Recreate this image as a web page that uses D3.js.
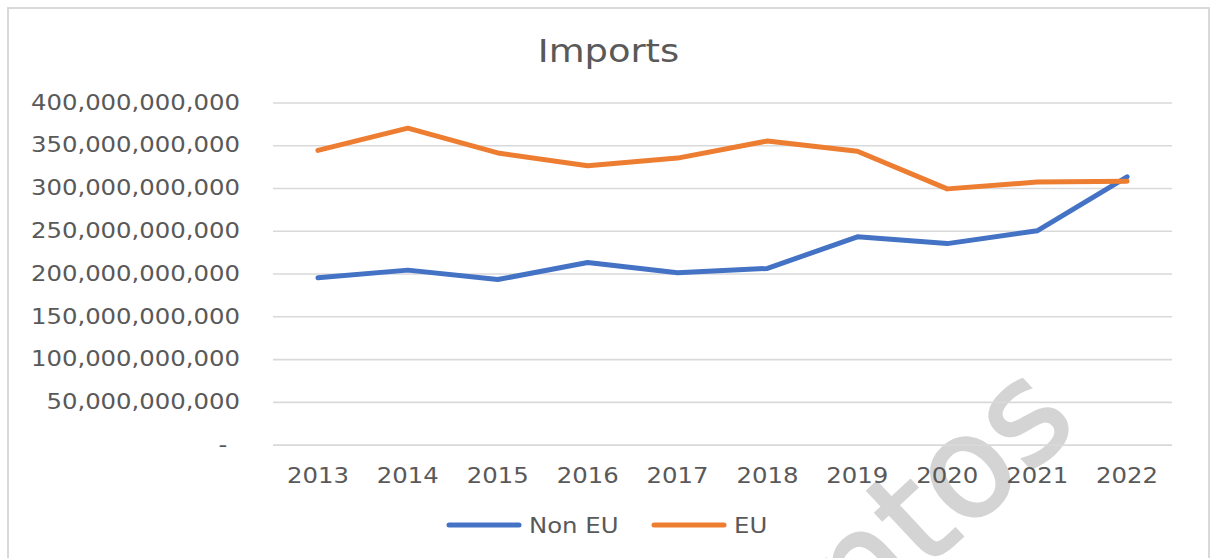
<!DOCTYPE html>
<html>
<head>
<meta charset="utf-8">
<script src="https://cdn.jsdelivr.net/npm/d3@7"></script>
<style>
  html, body { margin: 0; padding: 0; background: #fff; }
  svg { display: block; }
  text { font-family: "DejaVu Sans", "Open Sans", sans-serif; fill: #595959; }
</style>
</head>
<body>
<svg id="chart" width="1214" height="558"></svg>
<script>
// Yearly import values (EUR)
const years = ["2013","2014","2015","2016","2017","2018","2019","2020","2021","2022"];
const nonEU = [195e9, 204e9, 193e9, 213e9, 201e9, 206e9, 243e9, 235e9, 250e9, 313e9];
const eu    = [344e9, 370e9, 341e9, 326e9, 335e9, 355e9, 343e9, 299e9, 307e9, 308e9];
const yTicks = [0, 50e9, 100e9, 150e9, 200e9, 250e9, 300e9, 350e9, 400e9];
const seriesNames = ["Non EU", "EU"];
const seriesColors = ["#4472C4", "#ED7D31"];
const chartTitle = "Imports";

const svg = d3.select("#chart");
const stretch = "scale(1.16,1)";
const plotL = 273, plotR = 1172, plotT = 102.5, plotB = 444.6;

// Chart frame
svg.append("rect")
  .attr("x", 8).attr("y", 8)
  .attr("width", 1201).attr("height", 560)
  .attr("fill", "#fff").attr("stroke", "#d9d9d9").attr("stroke-width", 2);

// Faint watermark, under the gridlines and labels
svg.append("text")
  .attr("transform", "translate(860,632) rotate(-43)")
  .attr("font-size", 140)
  .style("fill", "#d4d4d4")
  .style("stroke", "#d4d4d4")
  .style("stroke-width", 2.5)
  .text("ntos");

const x = d3.scaleBand().domain(years).range([plotL, plotR]);
const y = d3.scaleLinear().domain([0, 400e9]).range([plotB, plotT]);

// Horizontal gridlines
svg.append("g")
  .attr("transform", `translate(${plotL},0)`)
  .call(d3.axisLeft(y).tickValues(yTicks).tickSize(-(plotR - plotL)).tickFormat(""))
  .call(g => g.select(".domain").remove())
  .call(g => g.selectAll("line").attr("stroke", "#d9d9d9").attr("stroke-width", 1.6));

// Y axis labels
const yAxis = svg.append("g")
  .attr("transform", `translate(${plotL},0)`)
  .call(d3.axisLeft(y).tickValues(yTicks).tickSize(0).tickPadding(28.4)
    .tickFormat(d => d === 0 ? "-" : d3.format(",")(d)))
  .call(g => g.select(".domain").remove());
yAxis.selectAll("text")
  .attr("font-size", 21).attr("fill", "#595959")
  .style("font-family", "'DejaVu Sans', sans-serif")
  .attr("transform", stretch)
  .filter(d => d === 0).attr("x", -39.5);

// X axis labels
const xAxis = svg.append("g")
  .attr("transform", `translate(0,${plotB})`)
  .call(d3.axisBottom(x).tickSize(0).tickPadding(23.5))
  .call(g => g.select(".domain").remove());
xAxis.selectAll("text")
  .attr("font-size", 21).attr("fill", "#595959")
  .style("font-family", "'DejaVu Sans', sans-serif")
  .attr("transform", stretch);

// Series lines
const line = d3.line()
  .x((d, i) => x(years[i]) + x.bandwidth() / 2)
  .y(d => y(d));

[nonEU, eu].forEach((vals, k) => {
  svg.append("path")
    .datum(vals)
    .attr("d", line)
    .attr("fill", "none")
    .attr("stroke", seriesColors[k])
    .attr("stroke-width", 5)
    .attr("stroke-linejoin", "round")
    .attr("stroke-linecap", "round");
});

// Title
svg.append("text")
  .attr("transform", `translate(608.5,62) scale(1.17,1)`)
  .attr("text-anchor", "middle")
  .attr("font-size", 31.5)
  .text(chartTitle);

// Legend
const legendX = [449, 654];
const legend = svg.append("g");
seriesNames.forEach((name, k) => {
  legend.append("line")
    .attr("x1", legendX[k]).attr("x2", legendX[k] + 70)
    .attr("y1", 525).attr("y2", 525)
    .attr("stroke", seriesColors[k]).attr("stroke-width", 5)
    .attr("stroke-linecap", "round");
  legend.append("text")
    .attr("transform", `translate(${legendX[k] + 80},533) ${stretch}`)
    .attr("font-size", 21)
    .text(name);
});
</script>
</body>
</html>
